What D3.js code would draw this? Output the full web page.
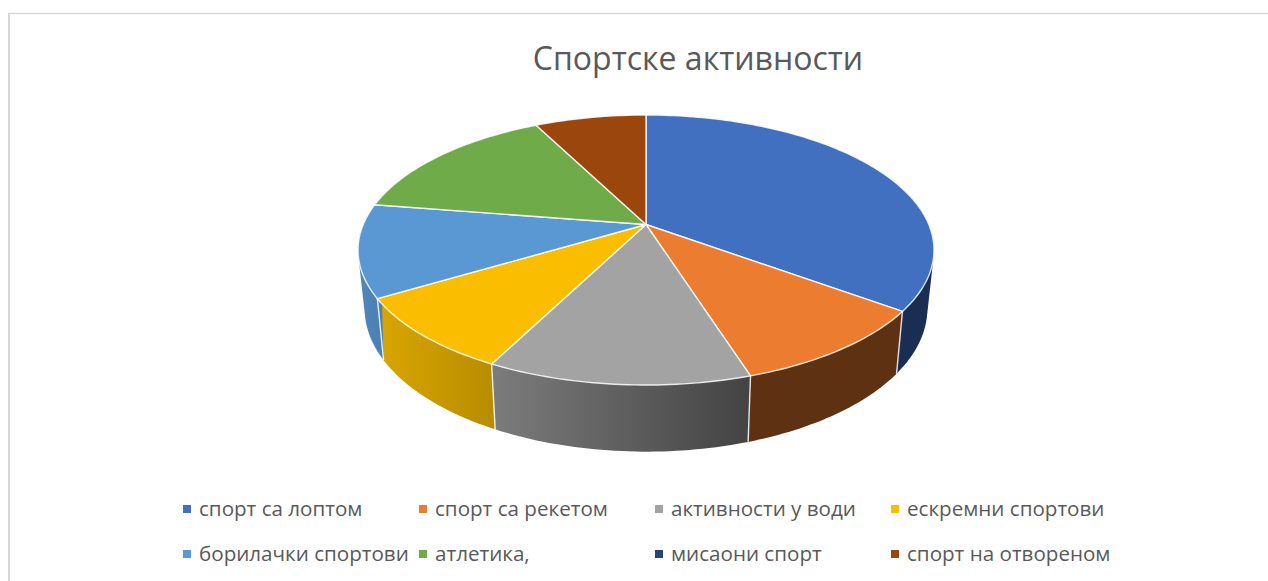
<!DOCTYPE html>
<html>
<head>
<meta charset="utf-8">
<script src="https://cdn.jsdelivr.net/npm/d3@7"></script>
<style>
html, body { margin: 0; padding: 0; background: #fff; overflow: hidden; }
text { font-family: "Open Sans", sans-serif; fill: #595959; }
</style>
</head>
<body>
<svg id="chart" width="1268" height="581"></svg>
<script>
// values (share of the whole pie, %)
var categories = ["спорт са лоптом", "спорт са рекетом", "активности у води", "ескремни спортови",
                  "борилачки спортови", "атлетика,", "мисаони спорт", "спорт на отвореном"];
var values = [35.1, 10.0, 12.4, 8.9, 11.1, 15.0, 0, 7.5];
var colors = ["#4170c0", "#eb7c30", "#a3a3a3", "#fbbd00", "#5a98d3", "#6fab48", "#264478", "#9a460c"];
var sideLeft = ["#1a2d52", "#5f3113", "#7c7c7c", "#d9a600", "#4f86bb", "#70ad47", "#264478", "#9e480e"];
var sideRight = ["#1a2d52", "#5f3113", "#434343", "#b88c00", "#4d80b5", "#70ad47", "#264478", "#9e480e"];
var title = "Спортске активности";

var svg = d3.select("#chart");
var cx = 646, cy = 224.5;

// perspective of the pie disc: unit circle to screen, apex is the circle centre
var persp = -0.1889, scaleX = 282.8, scaleY = 130.2;
var lowX = 0.977, lowY = 1.06, depth = 57;

function topPoint(a) {
    var u = Math.sin(a), v = -Math.cos(a);
    var w = 1 + persp * v;
    return [cx + scaleX * u / w, cy + scaleY * v / w];
}
function lowPoint(a) {
    var u = Math.sin(a), v = -Math.cos(a);
    var w = 1 + persp * v;
    return [cx + lowX * scaleX * u / w, cy + lowY * scaleY * v / w + depth];
}

var pie = d3.pie().sort(null).value(function(d) { return d; });
var arcs = pie(values);
var line = d3.line();

function sweep(a0, a1) {
    var n = Math.max(2, Math.ceil((a1 - a0) / 0.02));
    return d3.range(n + 1).map(function(i) { return a0 + (a1 - a0) * i / n; });
}

// border of the chart area
svg.append("line")
    .attr("x1", 9).attr("x2", 9).attr("y1", 13).attr("y2", 581)
    .attr("stroke", "#d6d6d6").attr("stroke-width", 2);
svg.append("line")
    .attr("x1", 8).attr("x2", 1268).attr("y1", 13.5).attr("y2", 13.5)
    .attr("stroke", "#d9d9d9").attr("stroke-width", 1.3);

svg.append("text")
    .attr("x", 698).attr("y", 70)
    .attr("text-anchor", "middle")
    .style("font-size", "32px")
    .text(title);

var defs = svg.append("defs");

// side wall, only the part that faces the viewer. hull so the silhouette
// runs straight from the top rim to the lower rim, top face covers the rest
var sideMin = 1.3, sideMax = 2 * Math.PI - 1.3;
var walls = svg.append("g");
arcs.forEach(function(d, i) {
    var a0 = Math.max(d.startAngle, sideMin), a1 = Math.min(d.endAngle, sideMax);
    if (a1 <= a0) return;
    var angles = sweep(a0, a1);
    var hull = d3.polygonHull(angles.map(topPoint).concat(angles.map(lowPoint)));
    var xs = hull.map(function(p) { return p[0]; });
    var grad = defs.append("linearGradient")
        .attr("id", "side" + i)
        .attr("gradientUnits", "userSpaceOnUse")
        .attr("x1", d3.min(xs)).attr("x2", d3.max(xs))
        .attr("y1", 0).attr("y2", 0);
    grad.append("stop").attr("offset", 0).attr("stop-color", sideLeft[i]);
    grad.append("stop").attr("offset", 1).attr("stop-color", sideRight[i]);
    walls.append("path")
        .attr("d", line(hull) + "Z")
        .attr("fill", "url(#side" + i + ")");
});
// white seams between the walls
arcs.forEach(function(d) {
    var a = d.startAngle;
    if (a <= sideMin || a >= sideMax || d.value === 0) return;
    walls.append("path")
        .attr("d", line([topPoint(a), lowPoint(a)]))
        .attr("stroke", "#fff").attr("stroke-opacity", 0.85).attr("stroke-width", 1.4);
});

// top of the pie
var faces = svg.append("g");
arcs.forEach(function(d, i) {
    if (d.value === 0) return;
    var pts = [[cx, cy]].concat(sweep(d.startAngle, d.endAngle).map(topPoint));
    faces.append("path")
        .attr("d", line(pts) + "Z")
        .attr("fill", colors[i])
        .attr("stroke", "#fff")
        .attr("stroke-opacity", 0.85)
        .attr("stroke-width", 1.4)
        .attr("stroke-linejoin", "round");
});

// legend, 4 per row
var legendX = d3.scalePoint().domain([0, 1, 2, 3]).range([183, 891]);
var legendY = d3.scalePoint().domain([0, 1]).range([505, 550]);
var legend = svg.append("g").selectAll("g")
    .data(categories)
    .enter().append("g")
    .attr("transform", function(d, i) {
        return "translate(" + legendX(i % 4) + "," + legendY(Math.floor(i / 4)) + ")";
    });
legend.append("rect")
    .attr("width", 8).attr("height", 8)
    .attr("fill", function(d, i) { return colors[i]; });
legend.append("text")
    .attr("x", 16).attr("y", 11)
    .style("font-size", "20.6px")
    .text(function(d) { return d; });
</script>
</body>
</html>
